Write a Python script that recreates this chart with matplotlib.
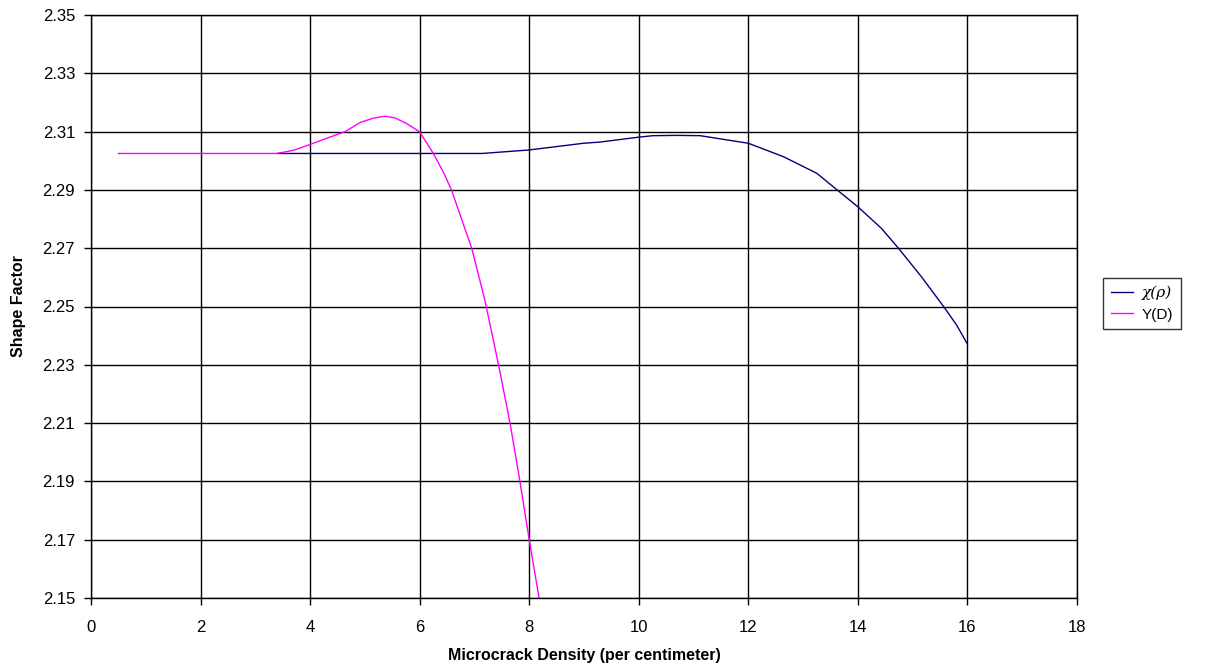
import matplotlib
matplotlib.use("Agg")
import matplotlib.pyplot as plt

plt.rcParams['font.family'] = ['Liberation Sans', 'DejaVu Sans']

# chi(rho) series
chi_x = [3.4, 7.14, 8.0, 8.99, 9.29, 10.0, 10.26, 10.7, 11.12, 12.0, 12.64, 13.25, 13.62,
         14.0, 14.43, 14.74, 15.16, 15.58, 15.8, 16.0]
chi_y = [2.3025, 2.3025, 2.3037, 2.3060, 2.3064, 2.3081, 2.3086, 2.3087, 2.3086, 2.3060,
         2.3014, 2.2957, 2.2900, 2.2842, 2.2768, 2.2700, 2.2602, 2.2496, 2.2437, 2.2371]

# Y(D) series
yd_x = [0.5, 3.39, 3.7, 4.0, 4.3, 4.64, 4.91, 5.15, 5.37, 5.55, 5.76, 6.0, 6.25, 6.43, 6.58,
        6.95, 7.19, 7.44, 7.65, 7.83, 8.0, 8.18, 8.3]
yd_y = [2.3025, 2.3025, 2.3036, 2.3056, 2.3077, 2.3100, 2.3131, 2.3146, 2.3153, 2.3147,
        2.3128, 2.3099, 2.3025, 2.2962, 2.2900, 2.2700, 2.2522, 2.2300, 2.2100, 2.1900,
        2.1700, 2.1500, 2.1370]

x_ticks = list(range(0, 19, 2))
y_ticks = [2.15, 2.17, 2.19, 2.21, 2.23, 2.25, 2.27, 2.29, 2.31, 2.33, 2.35]

W, H = 1221, 670
fig = plt.figure(figsize=(W / 100, H / 100), dpi=100)
ax = fig.add_axes([91 / W, 1 - 598 / H, (1077 - 91) / W, (598 - 15) / H])

ax.plot(chi_x, chi_y, color='#000080', lw=1.0, label='χ(ρ)')
ax.plot(yd_x, yd_y, color='#FF00FF', lw=1.0, label='Y(D)')

ax.set_xlim(0, 18)
ax.set_ylim(2.15, 2.35)
ax.set_xticks(x_ticks)
ax.set_xticklabels([str(t) for t in x_ticks])
ax.set_yticks(y_ticks)
ax.set_yticklabels([f"{t:.2f}" for t in y_ticks])
ax.grid(True, color='#000000', lw=1.0)
ax.set_axisbelow(True)
for s in ax.spines.values():
    s.set_color('#000000')
    s.set_linewidth(1.0)
ax.tick_params(direction='out', length=5, width=1, labelsize=12, colors='#000000')
ax.tick_params(axis='x', pad=10.5)
ax.tick_params(axis='y', pad=6.5)

ax.set_xlabel('Microcrack Density (per centimeter)', fontsize=11.5, fontweight='bold', labelpad=10)
ax.set_ylabel('Shape Factor', fontsize=11.5, fontweight='bold', labelpad=12)

leg = ax.legend(loc='upper left', bbox_to_anchor=(1.0264, 0.549), frameon=True, fancybox=False,
                edgecolor='#000000', fontsize=11, handlelength=1.45, handletextpad=0.6,
                borderpad=0.5, labelspacing=0.5, borderaxespad=0)
leg.get_frame().set_linewidth(1.0)
leg.get_texts()[0].set_fontstyle('italic')
leg.get_texts()[0].set_family(['DejaVu Serif'])

fig.savefig('out.png', dpi=100)
